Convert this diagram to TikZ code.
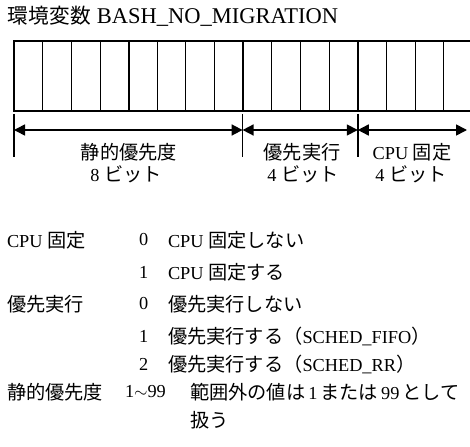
\documentclass[tikz,border=0pt]{standalone}
\usepackage{fontspec}
\setmainfont{Liberation Serif}
\newfontfamily\jp{Noto Sans CJK JP}[Scale=1.05]
\newfontfamily\jpt{Noto Sans CJK JP}[Scale=0.92]
\usetikzlibrary{arrows.meta}
\begin{document}
\begin{tikzpicture}[x=1pt,y=-1pt,
  every node/.style={inner sep=0pt,outer sep=0pt,font=\fontsize{18.3}{21}\selectfont},
  txt/.style={anchor=west},
  tick/.style={line width=1.5pt},
  dimarrow/.style={{Triangle[length=11pt,width=11pt]}-{Triangle[length=11pt,width=11pt]},line width=1.6pt},
  cellline/.style={line width=0.9pt},
  quadline/.style={line width=1.8pt},
  regbox/.style={line width=2.2pt}]
\useasboundingbox (0,0) rectangle (470,446);
% title
\node[txt,font=\fontsize{22.5}{26}\selectfont] (title) at (8,16) {{\jpt 環境変数}\hspace{6pt}BASH\_NO\_MIGRATION};
% register
\foreach \i in {1,...,15}{
  \pgfmathtruncatemacro{\m}{mod(\i,4)}
  \ifnum\m=0
    \draw[quadline] ({14+\i*28.65},41) -- ({14+\i*28.65},111);
  \else
    \draw[cellline] ({14+\i*28.65},41) -- ({14+\i*28.65},111);
  \fi
}
\draw[regbox] (14,41) rectangle (472.4,111);
% ticks
\coordinate (t0) at (14,130);
\coordinate (t1) at (242.6,130);
\coordinate (t2) at (357.8,130);
\coordinate (t3) at (467,130);
\draw[tick] (14,114) -- (14,157);
\draw[tick] (242.6,114) -- (242.6,157);
\draw[tick] (357.8,114) -- (357.8,157);
\draw[dimarrow] (t0) -- (t1);
\draw[dimarrow] (t1) -- (t2);
\draw[dimarrow] (t2) -- (t3);
% field labels
\node (f1) at (129,152) {\jp 静的優先度};
\node (f1b) at (126,174) {8 {\jp ビット}};
\node (f2) at (302,152) {\jp 優先実行};
\node (f2b) at (303,174) {4 {\jp ビット}};
\node (f3) at (412,152) {CPU {\jp 固定}};
\node (f3b) at (411,174) {4 {\jp ビット}};
% legend
\node[txt] (k1) at (7,240) {CPU {\jp 固定}};
\node[txt] (v10) at (139,240) {0};
\node[txt] (d10) at (168,240) {CPU {\jp 固定しない}};
\node[txt] (v11) at (139,272) {1};
\node[txt] (d11) at (168,272) {CPU {\jp 固定する}};
\node[txt] (k2) at (7,304) {\jp 優先実行};
\node[txt] (v20) at (139,304) {0};
\node[txt] (d20) at (168,304) {\jp 優先実行しない};
\node[txt] (v21) at (139,336) {1};
\node[txt] (d21) at (168,336) {{\jp 優先実行する（}SCHED\_FIFO{\jp ）}};
\node[txt] (v22) at (139,364) {2};
\node[txt] (d22) at (168,364) {{\jp 優先実行する（}SCHED\_RR{\jp ）}};
\node[txt] (k3) at (7,392) {\jp 静的優先度};
\node[txt] (v3) at (125,392) {1$\sim$99};
\node[txt] (d3) at (190,392) {{\jp 範囲外の値は}\,1\,{\jp または}\,99\,{\jp として}};
\node[txt] (d3b) at (190,420) {\jp 扱う};
\end{tikzpicture}
\end{document}
